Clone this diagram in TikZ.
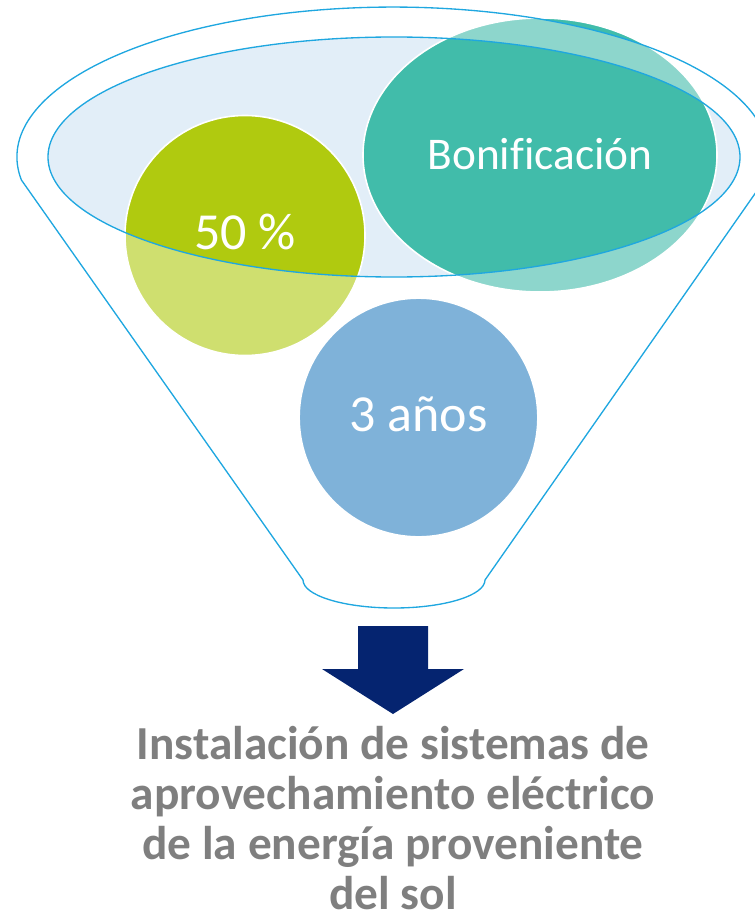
\documentclass[tikz,border=0pt]{standalone}
\usepackage{fontspec}
\setmainfont{Carlito}[Ligatures=CommonOff]
\usetikzlibrary{shapes.geometric}

\definecolor{rimblue}{RGB}{31,167,224}
\definecolor{mouthblue}{RGB}{226,238,248}
\definecolor{limegreen}{RGB}{176,202,15}
\definecolor{seateal}{RGB}{65,188,170}
\definecolor{skyblue}{RGB}{42,128,193}
\definecolor{navyarrow}{RGB}{5,36,112}
\definecolor{textgray}{RGB}{127,127,127}

\begin{document}
\begin{tikzpicture}[x=0.75pt,y=-0.75pt]
\tikzstyle{ball}=[circle, draw=white, line width=1.2pt, inner sep=0pt,
  text=white, text height=21pt, text depth=0pt]
\tikzstyle{rim}=[draw=rimblue, line width=1pt]

\useasboundingbox (0,0) rectangle (755,917);

% mouth of the funnel
\fill[mouthblue] (394,157) ellipse [x radius=346, y radius=120];

% the three balls
\node[ball, fill=limegreen, minimum size=180pt, font=\fontsize{39}{40}\selectfont] (pct) at (245,235.5) {50 \%};
\node[ball, ellipse, fill=seateal, minimum width=265.5pt, minimum height=205.5pt, font=\fontsize{34}{36}\selectfont] (bonus) at (540,155) {Bonificación};
\node[ball, fill=skyblue, minimum size=179pt, font=\fontsize{39}{40}\selectfont] (years) at (418.5,417.5) {3 años};

% funnel body seen from the front
\fill[white, fill opacity=0.4, even odd rule]
  (21.4,180) arc[start angle=171.2, end angle=368.8, x radius=376, y radius=150]
  -- (485,580) arc[start angle=0, end angle=180, x radius=91, y radius=28] -- cycle
  (394,157) ellipse [x radius=346, y radius=120];
\path[rim] (21.4,180) arc[start angle=171.2, end angle=368.8, x radius=376, y radius=150]
  -- (485,580) arc[start angle=0, end angle=180, x radius=91, y radius=28] -- cycle;
\path[rim] (394,157) ellipse [x radius=346, y radius=120];

% result
\fill[navyarrow] (358,626) -- (428,626) -- (428,669) -- (464,669) -- (393,714)
  -- (322,669) -- (358,669) -- cycle;
\node[text=textgray, align=center, anchor=base, inner sep=0pt, font=\bfseries\fontsize{35.5}{37.3}\selectfont] (goal) at (393,909)
  {Instalación de sistemas de\\aprovechamiento eléctrico\\de la energía proveniente\\del sol};
\end{tikzpicture}
\end{document}
